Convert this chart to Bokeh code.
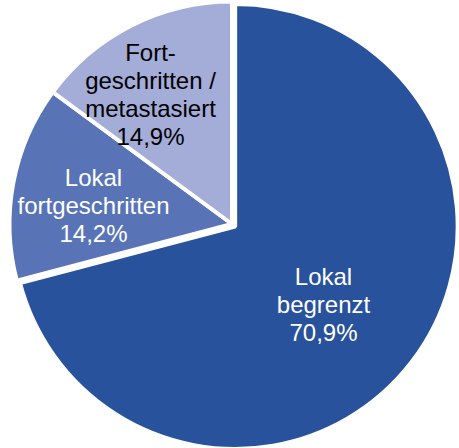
import numpy as np
from bokeh.plotting import figure
from bokeh.models import Range1d, ColumnDataSource
from bokeh.core.properties import value
from bokeh.embed import file_html
from bokeh.resources import INLINE

# Data
categories = ["Lokal begrenzt", "Lokal fortgeschritten", "Fortgeschritten / metastasiert"]
shares = [70.9, 14.2, 14.9]
colors = ["#28529C", "#5874B6", "#A4ACD8"]
label_lines = [
    ["Lokal", "begrenzt", "70,9%"],
    ["Lokal", "fortgeschritten", "14,2%"],
    ["Fort-", "geschritten /", "metastasiert", "14,9%"],
]
label_colors = ["white", "white", "black"]

# Layout (reference pixel space, y up)
W, H = 459, 448
cx, cy = 231.5, H - 223.5
R = 222.5
explode = [4.0, 0.0, 0.0]
label_anchor = [(323, H - 276), (93, H - 177), (150, H - 52)]
line_step = 28

p = figure(width=W, height=H, output_backend="svg", toolbar_location=None,
           x_range=Range1d(0, W), y_range=Range1d(0, H), min_border=0)
p.axis.visible = False
p.grid.visible = False
p.outline_line_color = None
p.background_fill_color = "white"

total = sum(shares)
fr = np.array(shares) / total
ends = np.cumsum(fr)
starts = ends - fr
start_ang = np.pi / 2 - 2 * np.pi * starts
end_ang = np.pi / 2 - 2 * np.pi * ends
mid_ang = (start_ang + end_ang) / 2
xs = [cx + e * np.cos(m) for e, m in zip(explode, mid_ang)]
ys = [cy + e * np.sin(m) for e, m in zip(explode, mid_ang)]

src = ColumnDataSource(dict(x=xs, y=ys, s=list(start_ang), e=list(end_ang), c=colors, cat=categories))
p.wedge(x="x", y="y", radius=R, start_angle="s", end_angle="e", direction="clock",
        fill_color="c", line_color="white", line_width=4, source=src)

for lines, (ax, ay), col in zip(label_lines, label_anchor, label_colors):
    tx = [ax] * len(lines)
    ty = [ay - i * line_step for i in range(len(lines))]
    p.text(x=tx, y=ty, text=lines, text_align="center", text_baseline="alphabetic",
           text_font=value("Liberation Sans"), text_font_size="24px", text_color=col)

open("out.html", "w").write(file_html(p, INLINE))
